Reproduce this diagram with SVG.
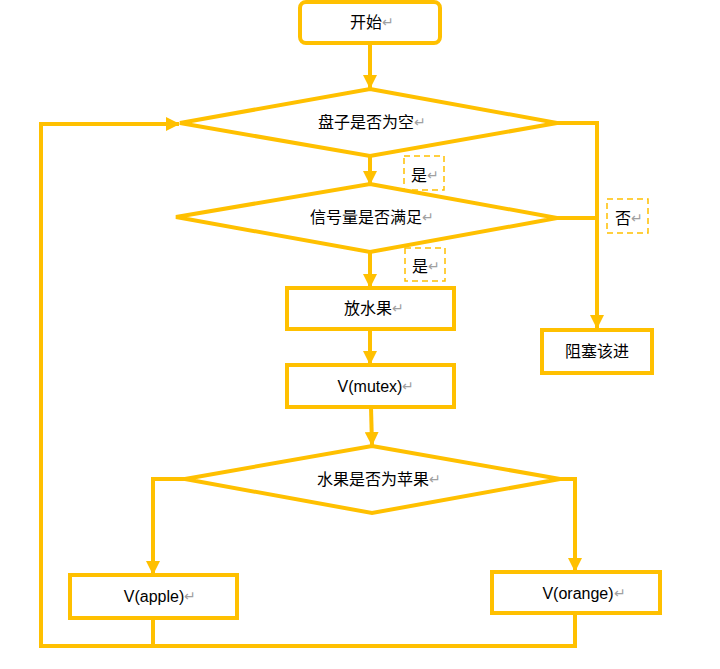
<svg xmlns="http://www.w3.org/2000/svg" width="720" height="669" viewBox="0 0 720 669">
<style>
.s{fill:#fff;stroke:#FFC000;stroke-width:4}
.ln{fill:none;stroke:#FFC000;stroke-width:4}
.d{fill:#fff;stroke:#FFC000;stroke-width:1.5;stroke-dasharray:6,4}
text{font-family:"Liberation Sans","Noto Sans CJK SC",sans-serif;font-size:16px;fill:#000;text-anchor:middle;dominant-baseline:central}
.r{fill:#a0a0a0;font-size:14px}
</style>
<defs>
<marker id="ah" markerUnits="userSpaceOnUse" markerWidth="14" markerHeight="14" viewBox="0 0 14 14" refX="13" refY="7" orient="auto">
<path d="M0,0 L14,7 L0,14 Z" fill="#FFC000"/>
</marker>
</defs>
<rect width="720" height="669" fill="#fff"/>
<g id="connectors">
<line class="ln" x1="370" y1="43" x2="370" y2="88" marker-end="url(#ah)"/>
<line class="ln" x1="370" y1="156" x2="370" y2="184" marker-end="url(#ah)"/>
<line class="ln" x1="370" y1="252" x2="370" y2="287" marker-end="url(#ah)"/>
<line class="ln" x1="370" y1="330" x2="370" y2="364" marker-end="url(#ah)"/>
<line class="ln" x1="371" y1="407" x2="372" y2="445" marker-end="url(#ah)"/>
<polyline class="ln" points="557,123 597,123 597,328" marker-end="url(#ah)"/>
<polyline class="ln" points="557,218 597,218"/>
<polyline class="ln" points="185,479 153,479 153,574" marker-end="url(#ah)"/>
<polyline class="ln" points="560,479 575,479 575,571" marker-end="url(#ah)"/>
<polyline class="ln" points="153,618 153,646"/>
<polyline class="ln" points="575,613 575,646 41,646 41,124 179,124" marker-end="url(#ah)"/>
</g>
<g id="start">
<rect class="s" x="300" y="2" width="140" height="41" rx="6"/>
<text x="372" y="22">开始<tspan class="r">↵</tspan></text>
</g>
<g id="dec1">
<polygon class="s" points="370,89 557,123 370,156 180,123"/>
<text x="372" y="122">盘子是否为空<tspan class="r">↵</tspan></text>
</g>
<g id="label-yes1">
<rect class="d" x="404" y="156" width="40" height="34"/>
<text x="425" y="175">是<tspan class="r">↵</tspan></text>
</g>
<g id="dec2">
<polygon class="s" points="370,184 557,218 370,252 176,217"/>
<text x="372" y="217">信号量是否满足<tspan class="r">↵</tspan></text>
</g>
<g id="label-no">
<rect class="d" x="607" y="199" width="41" height="34"/>
<text x="629" y="218">否<tspan class="r">↵</tspan></text>
</g>
<g id="label-yes2">
<rect class="d" x="405" y="248" width="40" height="33"/>
<text x="426" y="266">是<tspan class="r">↵</tspan></text>
</g>
<g id="put">
<rect class="s" x="287" y="288" width="167" height="41"/>
<text x="374" y="308">放水果<tspan class="r">↵</tspan></text>
</g>
<g id="vmutex">
<rect class="s" x="287" y="365" width="167" height="42"/>
<text x="376" y="386">V(mutex)<tspan class="r">↵</tspan></text>
</g>
<g id="block">
<rect class="s" x="542" y="330" width="110" height="43"/>
<text x="597" y="351">阻塞该进</text>
</g>
<g id="dec3">
<polygon class="s" points="372,446 560,479 372,513 185,479"/>
<text x="379" y="479">水果是否为苹果<tspan class="r">↵</tspan></text>
</g>
<g id="vapple">
<rect class="s" x="70" y="575" width="167" height="43"/>
<text x="160" y="596">V(apple)<tspan class="r">↵</tspan></text>
</g>
<g id="vorange">
<rect class="s" x="492" y="572" width="168" height="41"/>
<text x="584" y="593">V(orange)<tspan class="r">↵</tspan></text>
</g>
</svg>
